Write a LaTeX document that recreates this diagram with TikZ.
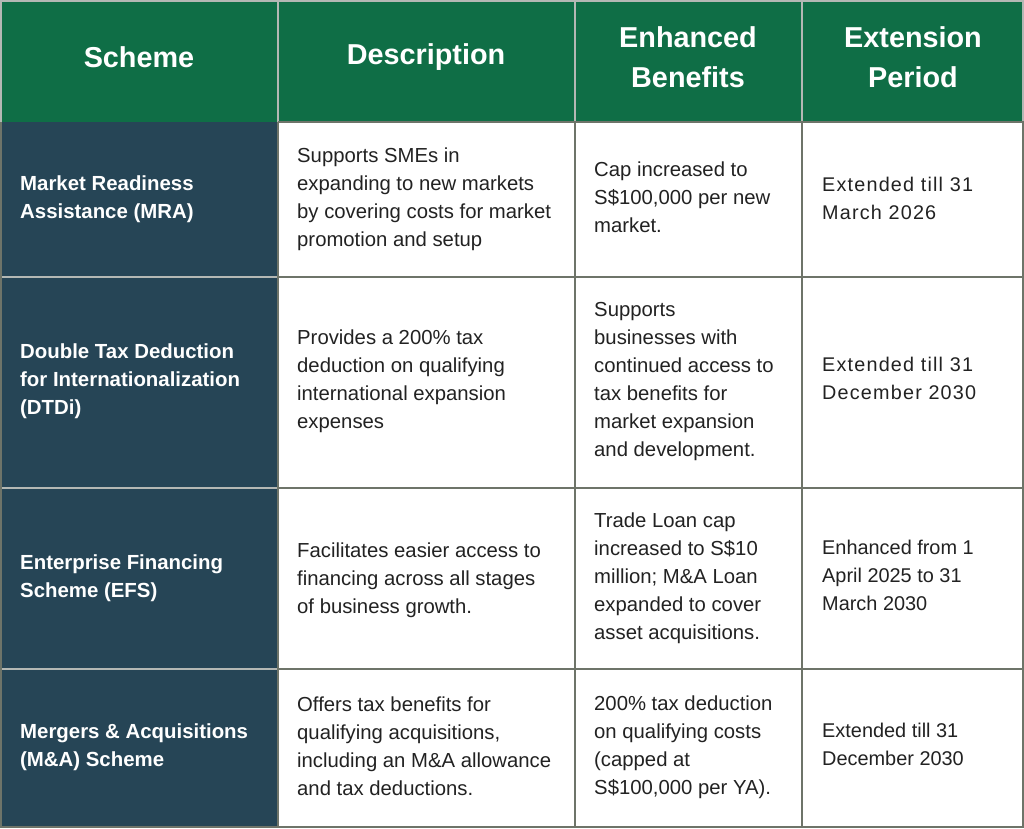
\documentclass[tikz,border=0pt]{standalone}
\usepackage{fontspec}
\setmainfont{Liberation Sans}
\newfontfamily\spacedfont[LetterSpace=6]{Liberation Sans}
\definecolor{hdrgreen}{HTML}{0F6E46}
\definecolor{navy}{HTML}{264556}
\definecolor{bodytxt}{HTML}{222222}
\definecolor{gridline}{HTML}{6E7469}
\definecolor{hdrline}{HTML}{B4B8B4}
\tikzset{
  hdr/.style={inner sep=0pt, align=center, text=white, font={\bfseries\fontsize{28.8}{40}\selectfont}},
  sch/.style={inner sep=0pt, anchor=west, align=left, text=white, font={\bfseries\fontsize{20.4}{28}\selectfont}},
  body/.style={inner sep=0pt, anchor=west, align=left, text=bodytxt, font={\fontsize{20.3}{28}\selectfont}},
  extbody/.style={body, font={\fontsize{19.9}{28}\selectfont}},
  spaced/.style={inner sep=0pt, anchor=west, align=left, text=bodytxt, font={\spacedfont\fontsize{19.8}{28}\selectfont}},
}
\begin{document}
\begin{tikzpicture}[x=1pt,y=-1pt]
\useasboundingbox (0,0) rectangle (1024,828);
% fills
\fill[white] (0,0) rectangle (1024,828);
\fill[hdrgreen] (0,0) rectangle (1024,122);
\fill[navy] (0,122) rectangle (278,828);
% grid lines
\draw[hdrline, line width=1.5pt] (1,1) -- (1023,1);
\foreach \x in {278,575,802} \draw[hdrline, line width=1.5pt] (\x,0) -- (\x,122);
\draw[hdrline, line width=1.5pt] (1,0) -- (1,122);
\draw[hdrline, line width=1.5pt] (1023,0) -- (1023,122);
\foreach \y in {277,488,669} \draw[hdrline, line width=1.5pt] (0,\y) -- (278,\y);
\draw[gridline, line width=1.5pt] (278,122) -- (1024,122);
\foreach \y in {277,488,669} \draw[gridline, line width=1.5pt] (278,\y) -- (1024,\y);
\foreach \x in {278,575,802} \draw[gridline, line width=1.5pt] (\x,122) -- (\x,828);
\draw[gridline, line width=1.5pt] (1023,122) -- (1023,828);
\draw[gridline, line width=1.5pt] (1,122) -- (1,828);
\draw[gridline, line width=1.5pt] (0,827) -- (1024,827);
% header
\node[hdr] (h1) at (139,57) {Scheme};
\node[hdr] (h2) at (426,57) {Description};
\node[hdr] (h3) at (688,57) {Enhanced\\Benefits};
\node[hdr] (h4) at (913,57) {Extension\\Period};
% row 1
\node[sch] (s1) at (20,199) {Market Readiness\\Assistance (MRA)};
\node[body] (d1) at (297,199) {Supports SMEs in\\expanding to new markets\\by covering costs for market\\promotion and setup};
\node[body] (e1) at (594,197) {Cap increased to\\S\$100,000 per new\\market.};
\node[spaced] (p1) at (822,198) {Extended till 31\\March 2026};
% row 2
\node[sch] (s2) at (20,381) {Double Tax Deduction\\for Internationalization\\(DTDi)};
\node[body] (d2) at (297,381) {Provides a 200\% tax\\deduction on qualifying\\international expansion\\expenses};
\node[body] (e2) at (594,382) {Supports\\businesses with\\continued access to\\tax benefits for\\market expansion\\and development.};
\node[spaced] (p2) at (822,378) {Extended till 31\\December 2030};
% row 3
\node[sch] (s3) at (20,578) {Enterprise Financing\\Scheme (EFS)};
\node[body] (d3) at (297,580) {Facilitates easier access to\\financing across all stages\\of business growth.};
\node[body] (e3) at (594,578) {Trade Loan cap\\increased to S\$10\\million; M\&A Loan\\expanded to cover\\asset acquisitions.};
\node[extbody] (p3) at (822,575) {Enhanced from 1\\April 2025 to 31\\March 2030};
% row 4
\node[sch] (s4) at (20,747) {Mergers \& Acquisitions\\(M\&A) Scheme};
\node[body] (d4) at (297,746) {Offers tax benefits for\\qualifying acquisitions,\\including an M\&A allowance\\and tax deductions.};
\node[body] (e4) at (594,747) {200\% tax deduction\\on qualifying costs\\(capped at\\S\$100,000 per YA).};
\node[extbody] (p4) at (822,744) {Extended till 31\\December 2030};
\end{tikzpicture}
\end{document}
